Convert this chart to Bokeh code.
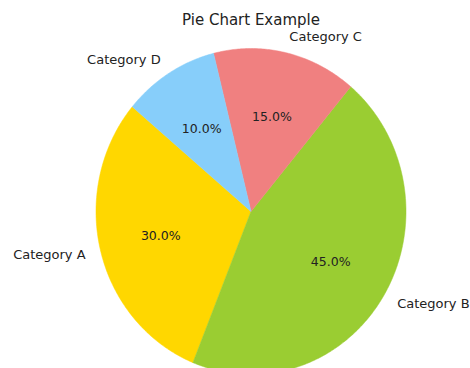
import math
from bokeh.plotting import figure
from bokeh.models import Range1d, ColumnDataSource
from bokeh.core.properties import value
from bokeh.embed import file_html
from bokeh.resources import INLINE

categories = ["Category A", "Category B", "Category C", "Category D"]
sizes = [30, 45, 15, 10]
colors = ["#FFD700", "#9ACD32", "#F08080", "#87CEFA"]
title_text = "Pie Chart Example"
start_angle_deg = 140

W, H = 470, 368
cx_px, cy_px = 250.5, 211
rx_px, ry_px = 155, 163

p = figure(width=W, height=H, output_backend="svg", toolbar_location=None,
           x_range=Range1d(-cx_px / rx_px, (W - cx_px) / rx_px),
           y_range=Range1d(-(H - cy_px) / ry_px, cy_px / ry_px),
           min_border=0)
p.axis.visible = False
p.grid.visible = False
p.outline_line_color = None
p.background_fill_color = "white"
p.border_fill_color = "white"

total = sum(sizes)
xs, ys, lx, ly, lalign, px, py, pct = [], [], [], [], [], [], [], []
a = math.radians(start_angle_deg)
for s in sizes:
    span = 2 * math.pi * s / total
    n = max(8, int(span / 0.01))
    arc = [a + span * i / n for i in range(n + 1)]
    xs.append([0.0] + [math.cos(t) for t in arc])
    ys.append([0.0] + [math.sin(t) for t in arc])
    mid = a + span / 2
    x, y = math.cos(mid), math.sin(mid)
    lx.append(1.1 * x)
    ly.append(1.1 * y)
    lalign.append("left" if x > 0 else "right")
    px.append(0.6 * x)
    py.append(0.6 * y)
    pct.append(f"{s / total * 100:.1f}%")
    a += span

src = ColumnDataSource(dict(xs=xs, ys=ys, color=colors,
                            lx=lx, ly=ly, label=categories, align=lalign,
                            px=px, py=py, pct=pct))

p.patches(xs="xs", ys="ys", fill_color="color", line_color="color",
          line_width=0.5, source=src)

p.text(x="lx", y="ly", text="label", text_align="align", text_baseline="middle",
       text_font=value("DejaVu Sans"), text_font_size="13px", text_color="#222222",
       source=src)
p.text(x="px", y="py", text="pct", text_align="center", text_baseline="middle",
       text_font=value("DejaVu Sans"), text_font_size="12.5px", text_color="#222222",
       source=src)
p.text(x=[0], y=[(cy_px - 19) / ry_px], text=[title_text], text_align="center",
       text_baseline="middle", text_font=value("DejaVu Sans"), text_font_size="15px",
       text_color="#222222")

open("out.html", "w").write(file_html(p, INLINE))
